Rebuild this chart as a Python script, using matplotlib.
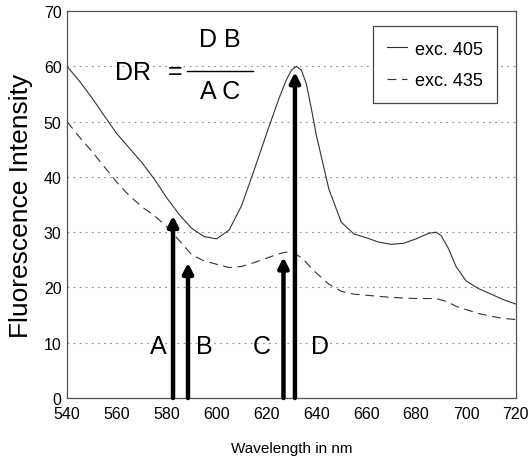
import matplotlib
matplotlib.use("Agg")
import matplotlib.pyplot as plt

wl_405 = [540, 545, 550, 555, 560, 565, 570, 575, 580, 585, 590, 595, 600, 605, 610,
          615, 620, 625, 628, 630, 632, 634, 636, 638, 640, 645, 650, 655, 660, 665,
          670, 675, 680, 685, 688, 690, 693, 696, 700, 705, 710, 715, 720]
exc_405 = [60, 57.3, 54.3, 51, 47.8, 45.2, 42.6, 39.6, 36.2, 33.2, 30.7, 29.2, 28.8, 30.4, 34.8,
           41.2, 47.8, 54.2, 57.6, 59.3, 60, 59.3, 56.8, 52.3, 47.5, 37.8, 31.8, 29.7, 29.0, 28.2,
           27.8, 28.0, 28.8, 29.8, 30.0, 29.4, 27.0, 23.8, 21.2, 19.8, 18.8, 17.8, 17]

wl_435 = [540, 545, 550, 555, 560, 565, 570, 575, 580, 585, 590, 595, 600, 605, 610,
          615, 620, 625, 628, 631, 634, 637, 640, 645, 650, 655, 660, 670, 680, 688,
          692, 696, 700, 705, 710, 715, 720]
exc_435 = [50, 47.2, 44.6, 41.8, 39.0, 36.6, 34.6, 33.0, 31.0, 28.5, 25.9, 24.8, 24.2, 23.6, 23.8,
           24.5, 25.3, 26.1, 26.4, 26.2, 25.4, 24.0, 22.6, 20.6, 19.3, 18.8, 18.6, 18.2, 18.0, 18.0,
           17.5, 16.6, 16.0, 15.3, 14.8, 14.4, 14.2]

arrow_labels = ["A", "B", "C", "D"]
arrow_x = [582.5, 588.5, 626.8, 631.4]
arrow_top = [33.0, 24.5, 25.5, 59.0]
label_x = [576.5, 595.0, 618.0, 641.5]
label_y = 9.5

xticks = [540, 560, 580, 600, 620, 640, 660, 680, 700, 720]
yticks = [0, 10, 20, 30, 40, 50, 60, 70]

sans = ["Liberation Sans", "DejaVu Sans"]

fig = plt.figure(figsize=(5.28, 4.64), dpi=100)
ax = fig.add_axes([0.127, 0.140, 0.850, 0.834])

ax.plot(wl_405, exc_405, color="#333333", lw=0.8, label="exc. 405")
ax.plot(wl_435, exc_435, color="#333333", lw=0.8, linestyle=(0, (8, 5)), label="exc. 435")

for yv in yticks[1:-1]:
    ax.axhline(yv, color="#888888", lw=0.8, linestyle=(0, (1.5, 4)), zorder=0)

for lab, xa, ta, lx in zip(arrow_labels, arrow_x, arrow_top, label_x):
    ax.annotate("", xy=(xa, ta), xytext=(xa, 0),
                arrowprops=dict(arrowstyle="-|>,head_length=0.6,head_width=0.3",
                                lw=3.2, color="black", shrinkA=0, shrinkB=0))
    ax.text(lx, label_y, lab, fontsize=18, family=sans, ha="center", va="center")

ax.set_xlim(540, 720)
ax.set_ylim(0, 70)
ax.set_xticks(xticks)
ax.set_yticks(yticks)
ax.tick_params(axis="x", length=0, pad=6)
ax.tick_params(axis="y", length=0, pad=4)
for t in ax.get_xticklabels() + ax.get_yticklabels():
    t.set_family(sans)
    t.set_fontsize(11.5)
for s in ax.spines.values():
    s.set_color("#555555")
    s.set_linewidth(0.9)

ax.set_xlabel("Wavelength in nm", fontsize=11, family=sans, labelpad=14)
ax.set_ylabel("Fluorescence Intensity", fontsize=19, family=sans, labelpad=8)

# formula
ax.text(0.146, 0.842, "DR", transform=ax.transAxes, fontsize=18, family=sans,
        ha="center", va="center")
ax.text(0.240, 0.845, "=", transform=ax.transAxes, fontsize=18, family=sans,
        ha="center", va="center")
ax.plot([0.267, 0.414], [0.845, 0.845], transform=ax.transAxes, color="black", lw=1.0)
ax.text(0.341, 0.928, "D B", transform=ax.transAxes, fontsize=18, family=sans,
        ha="center", va="center")
ax.text(0.341, 0.793, "A C", transform=ax.transAxes, fontsize=18, family=sans,
        ha="center", va="center")

leg = ax.legend(loc="upper right", bbox_to_anchor=(0.958, 0.961), borderaxespad=0,
                prop={"family": sans, "size": 13}, handlelength=1.1,
                handletextpad=0.4, borderpad=0.8, labelspacing=0.8,
                fancybox=False, framealpha=1, edgecolor="#444444")
leg.get_frame().set_linewidth(0.9)

fig.savefig("out.png", dpi=100)
